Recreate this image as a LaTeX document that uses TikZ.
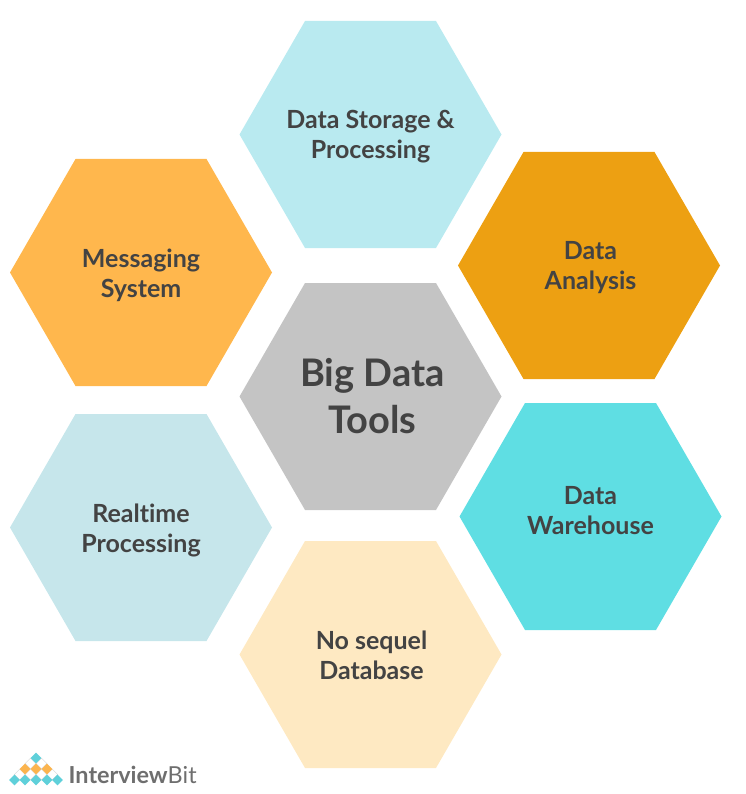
\documentclass[tikz,border=0pt]{standalone}
\usepackage{fontspec}
\setmainfont{Lato}
\definecolor{txt}{HTML}{434343}
\definecolor{logog}{HTML}{6E6E6E}
\definecolor{cteal}{HTML}{5FD0DA}
\definecolor{corg}{HTML}{FBB44E}
\definecolor{hexa}{HTML}{B9EAF0}
\definecolor{hexb}{HTML}{FFB74D}
\definecolor{hexc}{HTML}{EDA012}
\definecolor{hexd}{HTML}{C4C4C4}
\definecolor{hexe}{HTML}{C6E6EB}
\definecolor{hexf}{HTML}{5FDEE3}
\definecolor{hexg}{HTML}{FEE9C2}
\definecolor{celledge}{HTML}{D5D5D5}
\begin{document}
\begin{tikzpicture}[x=1pt,y=-1pt,
  hexlabel/.style={align=center,text=txt,font=\fontsize{25}{30}\selectfont\bfseries,inner sep=0pt},
  biglabel/.style={align=center,text=txt,font=\fontsize{38}{47}\selectfont\bfseries,inner sep=0pt},
  logotext/.style={anchor=west,inner sep=0pt,text=logog,font=\fontsize{23.4}{25}\selectfont},
  whitecell/.style={fill=white,draw=celledge,line width=0.5pt}]
\useasboundingbox (0,0) rectangle (745,794);
\newcommand{\hexshape}[3]{\fill[#3] (#1,#2) ++(-131,0) -- ++(65.5,-113.5) -- ++(131,0) -- ++(65.5,113.5) -- ++(-65.5,113.5) -- ++(-131,0) -- cycle;}
\newcommand{\dmd}[3]{\path[#3] (#1,#2) ++(-5.4,0) -- ++(5.4,-5.4) -- ++(5.4,5.4) -- ++(-5.4,5.4) -- cycle;}
\hexshape{370.5}{134.5}{hexa}
\hexshape{141}{272.5}{hexb}
\hexshape{589}{265.5}{hexc}
\hexshape{370.5}{396.5}{hexd}
\hexshape{141}{527.5}{hexe}
\hexshape{590.5}{516.5}{hexf}
\hexshape{370.5}{654.5}{hexg}
\node[hexlabel] (storage) at (370.5,137) {Data Storage \&\\Processing};
\node[hexlabel] (messaging) at (141,275) {Messaging\\System};
\node[hexlabel] (analysis) at (590.5,268) {Data\\Analysis};
\node[biglabel] (center) at (372.5,396) {Big Data\\Tools};
\node[hexlabel] (realtime) at (141,530.5) {Realt\kern0pt ime\\Processing};
\node[hexlabel] (warehouse) at (590.5,511) {Data\\Warehouse};
\node[hexlabel] (nosql) at (371.5,655) {No sequel\\Database};
\dmd{30.5}{763.5}{whitecell}\dmd{41.5}{763.5}{whitecell}
\dmd{19.75}{774.5}{whitecell}\dmd{30.5}{774.5}{whitecell}\dmd{41.5}{774.5}{whitecell}\dmd{52.25}{774.5}{whitecell}
\dmd{36}{758}{fill=cteal}
\dmd{25}{769}{fill=corg}\dmd{36}{769}{fill=corg}\dmd{47}{769}{fill=corg}
\dmd{14.5}{780}{fill=cteal}\dmd{25}{780}{fill=cteal}\dmd{36}{780}{fill=cteal}\dmd{47}{780}{fill=cteal}\dmd{57.5}{780}{fill=cteal}
\node[logotext] (logo) at (68.5,775) {\textbf{Interview}Bit};
\end{tikzpicture}
\end{document}
